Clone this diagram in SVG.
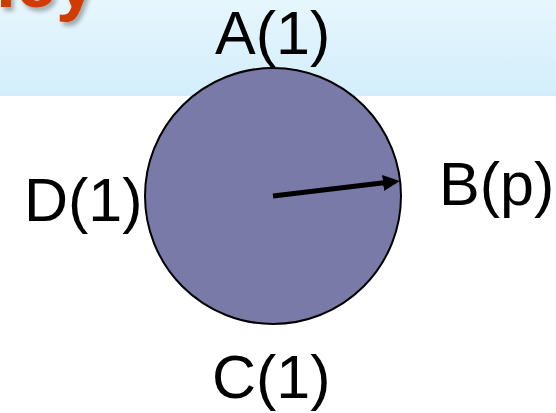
<svg xmlns="http://www.w3.org/2000/svg" width="556" height="413" viewBox="0 0 556 413">
  <defs>
    <linearGradient id="band" x1="0" y1="0" x2="0" y2="1">
      <stop offset="0" stop-color="#e6f6fd"/>
      <stop offset="1" stop-color="#d3eefb"/>
    </linearGradient>
    <filter id="shadow" x="-20%" y="-20%" width="140%" height="160%">
      <feGaussianBlur in="SourceAlpha" stdDeviation="2"/>
      <feOffset dx="3" dy="4" result="b"/>
      <feComponentTransfer><feFuncA type="linear" slope="0.3"/></feComponentTransfer>
      <feMerge><feMergeNode/><feMergeNode in="SourceGraphic"/></feMerge>
    </filter>
    <marker id="head" markerUnits="userSpaceOnUse" markerWidth="18" markerHeight="16" refX="3" refY="8" orient="auto">
      <path d="M0,0 L17,8 L0,16 z" fill="#000"/>
    </marker>
  </defs>
  <style>
    .lbl { font-family: "Liberation Sans", Arial, sans-serif; font-size: 61px; fill: #000; }
    .title { font-family: "Liberation Sans", Arial, sans-serif; font-size: 72px; font-weight: bold; fill: #d03a00; }
  </style>
  <rect x="0" y="0" width="556" height="96" fill="url(#band)"/>
  <rect x="0" y="96" width="556" height="317" fill="#ffffff"/>
  <text class="title" x="-116" y="7" filter="url(#shadow)">Policy</text>
  <g id="circle">
    <circle cx="273" cy="196" r="128" fill="#7a7aa8" stroke="#000" stroke-width="2"/>
  </g>
  <g id="connectors">
    <line x1="273" y1="196" x2="386" y2="182.6" stroke="#000" stroke-width="5" marker-end="url(#head)"/>
  </g>
  <g id="label-A"><text class="lbl" x="215" y="54">A(1)</text></g>
  <g id="label-B"><text class="lbl" x="439" y="205">B(p)</text></g>
  <g id="label-C"><text class="lbl" x="212" y="398">C(1)</text></g>
  <g id="label-D"><text class="lbl" x="24" y="221">D(1)</text></g>
</svg>
